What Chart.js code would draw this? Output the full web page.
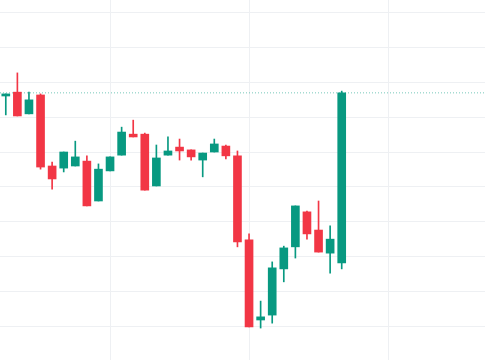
<!DOCTYPE html>
<html lang="en">
<head>
    <meta charset="UTF-8">
    <title>Candles</title>
    <script src="https://cdn.jsdelivr.net/npm/chart.js"></script>
    <style>
        html, body { margin: 0; padding: 0; background: #fff; }
        #wrap { width: 485px; height: 360px; }
    </style>
</head>
<body>
    <div id="wrap"><canvas id="candleChart"></canvas></div>

    <script>
        // OHLC values
        const opens  = [166.0, 167.1, 160.9, 166.3, 146.0, 145.4, 146.0, 147.4, 136.0, 144.6,
                        149.1, 155.1, 155.1, 140.3, 149.1, 151.4, 150.6, 147.7, 150.0, 151.7,
                        148.9, 124.9, 102.0, 103.4, 116.6, 122.9, 132.9, 127.7, 121.1, 118.3];
        const highs  = [166.6, 172.6, 167.1, 166.6, 147.1, 150.0, 153.1, 148.9, 146.6, 148.6,
                        157.1, 159.1, 155.4, 152.0, 154.3, 153.7, 150.6, 149.7, 153.7, 152.0,
                        150.3, 126.6, 107.4, 118.6, 123.1, 134.6, 133.1, 136.0, 128.9, 167.4];
        const lows   = [160.6, 160.3, 160.9, 145.1, 139.4, 144.3, 146.0, 134.6, 136.0, 144.6,
                        149.1, 154.3, 139.1, 140.3, 149.1, 147.7, 147.7, 142.9, 150.0, 148.0,
                        122.9, 100.0, 99.7, 101.1, 112.9, 119.7, 125.1, 121.4, 115.4, 116.6];
        const closes = [166.6, 160.3, 164.9, 145.7, 142.3, 150.0, 148.6, 134.6, 145.1, 148.6,
                        155.7, 154.3, 139.1, 148.3, 150.3, 150.3, 148.6, 149.7, 152.3, 148.9,
                        124.3, 100.0, 102.9, 116.9, 122.6, 134.6, 126.6, 121.4, 125.1, 166.9];
        const priceTicks = [100, 110, 120, 130, 140, 150, 160, 170, 180, 190];
        const timeTicks = [9, 21, 33];

        const UP = '#089981';
        const DOWN = '#F23645';
        const colors = opens.map((o, i) => closes[i] >= o ? UP : DOWN);
        const lastClose = closes[closes.length - 1];
        const xMin = -0.5, xMax = 41.37;

        const ctx = document.getElementById('candleChart').getContext('2d');
        new Chart(ctx, {
            type: 'bar',
            data: {
                datasets: [
                    {
                        // bodies
                        data: opens.map((o, i) => ({ x: i, y: [o, closes[i]] })),
                        backgroundColor: colors,
                        borderWidth: 0,
                        barThickness: 8,
                        grouped: false,
                        order: 0
                    },
                    {
                        // wicks
                        data: lows.map((l, i) => ({ x: i, y: [l, highs[i]] })),
                        backgroundColor: colors,
                        borderWidth: 0,
                        barThickness: 1,
                        grouped: false,
                        order: 1
                    },
                    {
                        // last price line
                        type: 'line',
                        data: [{ x: xMin, y: lastClose }, { x: xMax, y: lastClose }],
                        borderColor: 'rgba(8,153,129,0.55)',
                        borderWidth: 1,
                        borderDash: [1, 2],
                        pointRadius: 0,
                        order: 2
                    }
                ]
            },
            options: {
                responsive: true,
                maintainAspectRatio: false,
                animation: false,
                layout: { padding: 0 },
                plugins: {
                    legend: { display: false },
                    tooltip: { enabled: false }
                },
                scales: {
                    x: {
                        type: 'linear',
                        offset: false,
                        min: xMin,
                        max: xMax,
                        afterBuildTicks: axis => { axis.ticks = timeTicks.map(v => ({ value: v })); },
                        ticks: { display: false },
                        grid: { color: '#eef0f3', drawTicks: false, offset: false },
                        border: { display: false }
                    },
                    y: {
                        min: 90.57,
                        max: 193.43,
                        afterBuildTicks: axis => { axis.ticks = priceTicks.map(v => ({ value: v })); },
                        ticks: { display: false },
                        grid: { color: '#eef0f3', drawTicks: false },
                        border: { display: false }
                    }
                }
            }
        });
    </script>
</body>
</html>
